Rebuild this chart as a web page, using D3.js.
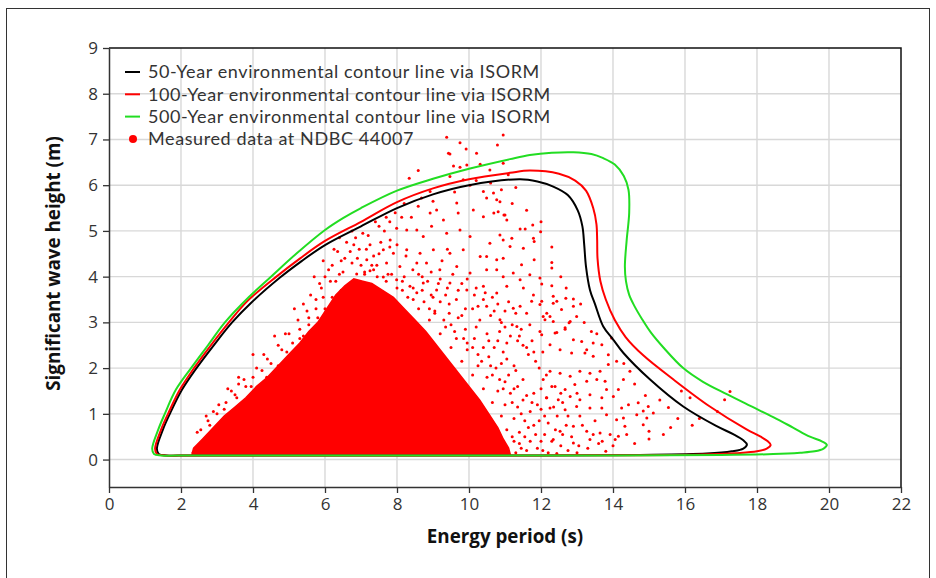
<!DOCTYPE html>
<html>
<head>
<meta charset="utf-8">
<script src="https://cdn.jsdelivr.net/npm/d3@7"></script>
<style>
  html, body { margin: 0; padding: 0; background: #fff; }
  svg { display: block; }
  .tick text { font-family: "Open Sans", sans-serif; font-size: 17px; fill: #333; }
</style>
</head>
<body>
<svg id="chart" width="936" height="578"></svg>
<script>
// axis ticks
const xTicks = [0, 2, 4, 6, 8, 10, 12, 14, 16, 18, 20, 22]
const yTicks = [0, 1, 2, 3, 4, 5, 6, 7, 8, 9]

// contour lines [Te, Hs], traced counter-clockwise from the lower-left tip
const contour50 = [
  [1.38, 0.12], [1.6, 0.09], [2.2, 0.09], [4, 0.09], [8, 0.09], [12, 0.09], [14.75, 0.1],
  [16.6, 0.13], [17.3, 0.18], [17.62, 0.24], [17.72, 0.33], [17.62, 0.42], [17.35, 0.55],
  [16.88, 0.73], [15.95, 1.16], [15.03, 1.75], [14.29, 2.33], [14.0, 2.63], [13.73, 2.91],
  [13.5, 3.4], [13.36, 3.71], [13.25, 4.22], [13.2, 4.7], [13.15, 5.1], [13.02, 5.45],
  [12.75, 5.78], [12.34, 5.97], [11.9, 6.08], [11.42, 6.13], [10.0, 6.0], [9.0, 5.8],
  [8.0, 5.5], [7.0, 5.1], [6.0, 4.69], [5.35, 4.34], [4.75, 3.98], [3.95, 3.43], [3.42, 3.0],
  [2.92, 2.51], [2.44, 2.01], [2.03, 1.53], [1.69, 1.0], [1.5, 0.66], [1.33, 0.24]
]
const contour100 = [
  [1.33, 0.12], [1.55, 0.09], [2.2, 0.09], [4, 0.09], [8, 0.09], [12, 0.09], [16.5, 0.11],
  [17.4, 0.14], [18.0, 0.18], [18.27, 0.24], [18.38, 0.32], [18.3, 0.4], [18.1, 0.5],
  [17.71, 0.66], [16.69, 1.16], [15.68, 1.75], [14.84, 2.28], [14.35, 2.68], [14.05, 3.05],
  [13.8, 3.5], [13.65, 3.9], [13.57, 4.4], [13.56, 4.8], [13.54, 5.15], [13.45, 5.5],
  [13.25, 5.88], [12.95, 6.1], [12.5, 6.25], [11.69, 6.32], [11.14, 6.27], [10.0, 6.13],
  [9.0, 5.93], [8.0, 5.63], [7.0, 5.2], [6.0, 4.78], [5.31, 4.4], [4.65, 4.0], [3.85, 3.47],
  [3.33, 3.0], [2.84, 2.51], [2.37, 2.01], [1.97, 1.53], [1.64, 1.0], [1.45, 0.66], [1.28, 0.24]
]
const contour500 = [
  [1.25, 0.12], [1.45, 0.09], [2.2, 0.09], [4, 0.09], [8, 0.09], [12, 0.09], [17, 0.1],
  [18.45, 0.12], [19.2, 0.15], [19.6, 0.18], [19.85, 0.24], [19.94, 0.32], [19.8, 0.4],
  [19.47, 0.5], [19.0, 0.7], [18.45, 0.93], [17.8, 1.18], [17.16, 1.43], [16.5, 1.7],
  [15.95, 2.0], [15.4, 2.45], [15.05, 2.78], [14.8, 3.08], [14.6, 3.35], [14.45, 3.6],
  [14.36, 3.9], [14.33, 4.22], [14.38, 4.8], [14.45, 5.4], [14.43, 5.9], [14.3, 6.2],
  [14.05, 6.45], [13.73, 6.59], [13.4, 6.68], [12.9, 6.72], [12.3, 6.71], [11.69, 6.66],
  [11.14, 6.57], [10.0, 6.36], [9.0, 6.14], [8.0, 5.88], [7.0, 5.5], [6.5, 5.28], [6.0, 5.02],
  [5.2, 4.5], [4.5, 4.0], [3.88, 3.55], [3.22, 3.0], [2.75, 2.5], [2.28, 2.0], [1.86, 1.53],
  [1.55, 1.0], [1.37, 0.66], [1.2, 0.24]
]

// measured data: outline of the saturated bulk of the buoy records
const denseCore = [
  [2.3, 0.1], [2.35, 0.25], [2.6, 0.45], [2.9, 0.7], [3.2, 0.95], [3.5, 1.15], [3.8, 1.35],
  [4.1, 1.6], [4.4, 1.8], [4.7, 2.05], [5.0, 2.3], [5.3, 2.55], [5.55, 2.8], [5.8, 3.0],
  [6.05, 3.3], [6.3, 3.6], [6.55, 3.8], [6.8, 3.95], [7.05, 3.9], [7.3, 3.85], [7.6, 3.7],
  [7.9, 3.55], [8.2, 3.3], [8.5, 3.05], [8.8, 2.8], [9.1, 2.5], [9.4, 2.2], [9.7, 1.9],
  [10.0, 1.6], [10.3, 1.3], [10.55, 1.0], [10.8, 0.7], [10.95, 0.45], [11.1, 0.25], [11.15, 0.1]
]

// measured data: individual records outside the bulk
const measured = [
  [2.34, 0.16], [2.53, 0.22], [2.8, 0.75], [3.2, 1.1], [3.55, 1.35], [3.95, 1.6], [4.38, 1.8],
  [4.7, 2.05], [4.94, 2.35], [5.3, 2.65], [5.4, 2.7], [5.55, 2.95], [5.8, 3.1],
  [6.0, 3.3], [6.2, 3.55], [6.45, 3.7], [5.9, 3.75],
  [6.3, 3.9], [6.5, 4.1], [6.75, 4.3], [6.95, 4.6], [7.1, 4.05], [7.35, 4.45], [6.2, 4.25],
  [6.6, 4.75], [7.2, 4.9], [7.5, 5.1], [7.7, 5.3], [7.95, 5.4], [8.2, 5.6], [7.55, 4.75],
  [6.85, 4.85], [6.88, 4.06], [7.25, 4.13], [7.62, 3.99], [7.99, 3.93],
  [8.36, 3.79], [8.73, 3.86], [9.1, 3.71], [9.47, 3.86], [9.94, 3.71], [10.4, 3.79], [10.77, 3.64],
  [7.16, 4.37], [7.44, 4.25], [7.71, 4.3], [8.08, 4.22], [8.44, 4.15], [8.82, 4.3], [9.19, 4.15],
  [9.66, 4.22], [10.03, 4.08], [10.49, 4.15], [10.95, 4.0], [7.81, 4.8], [7.62, 4.59], [7.9, 4.51],
  [8.27, 4.59], [8.64, 4.51], [9.01, 4.59], [9.47, 4.51], [9.84, 4.59], [10.31, 4.44], [10.77, 4.37],
  [8.13, 5.3], [7.99, 5.06], [8.27, 5.02], [8.55, 5.02], [8.73, 4.88], [8.96, 5.1], [9.38, 4.95],
  [9.75, 5.02], [10.03, 4.88], [10.58, 4.73], [10.95, 4.8], [8.59, 5.54], [8.92, 5.39], [9.1, 5.46],
  [9.29, 5.24], [9.66, 5.61], [9.7, 5.39], [10.12, 5.46], [10.4, 5.31], [10.81, 5.42], [11.05, 5.24],
  [8.68, 5.72], [8.92, 5.86], [9.47, 6.19], [9.84, 6.12], [10.03, 6.0], [10.4, 5.86], [10.77, 5.68],
  [10.49, 5.72], [8.59, 6.32], [8.34, 6.15], [9.57, 6.42], [9.75, 6.39], [9.94, 6.44], [10.31, 6.46],
  [10.58, 6.33], [9.38, 7.05], [9.75, 6.93], [9.92, 6.79], [9.47, 6.68], [10.21, 6.7], [10.79, 6.88],
  [10.95, 7.1], [9.43, 6.7], [10.95, 6.48], [11.09, 6.23], [10.68, 5.83], [10.86, 5.64], [10.9, 5.9],
  [10.69, 5.39], [10.97, 5.35], [11.0, 5.35], [11.42, 5.04], [11.56, 5.04], [11.77, 5.13],
  [11.99, 4.98], [11.79, 4.84], [11.81, 4.77], [11.51, 4.62], [11.14, 4.66], [11.19, 4.84],
  [10.86, 4.91], [10.49, 4.44], [10.95, 4.4], [11.46, 4.26], [11.81, 4.37], [12.3, 4.31],
  [12.3, 4.19], [10.77, 4.15], [11.23, 4.08], [11.69, 4.04], [11.97, 3.97], [12.3, 3.8],
  [12.02, 3.84], [11.05, 3.79], [11.51, 3.75], [11.79, 3.6], [12.02, 3.46], [12.44, 3.46],
  [12.69, 3.53], [12.9, 3.51], [12.57, 3.28], [12.99, 3.13], [12.25, 3.13], [11.6, 3.2],
  [11.23, 3.31], [10.49, 3.35], [10.86, 3.06], [11.33, 2.91], [11.69, 2.95], [11.97, 2.8],
  [12.44, 2.78], [12.67, 2.88], [13.96, 2.66], [11.42, 3.93], [11.97, 3.39], [11.74, 3.46],
  [11.42, 3.35], [12.16, 3.2], [12.78, 2.99], [12.34, 3.02], [12.06, 3.13], [12.34, 3.57],
  [12.34, 3.42], [12.9, 3.35], [12.11, 3.06], [12.81, 3.02], [12.67, 2.85], [12.39, 2.77],
  [12.02, 2.73], [12.9, 2.62], [13.13, 2.58], [13.45, 2.55], [13.69, 2.51], [13.27, 2.4],
  [12.25, 2.51], [12.53, 2.4], [12.85, 2.33], [13.22, 2.33], [13.45, 2.26], [13.87, 2.29],
  [14.1, 2.15], [13.87, 2.08], [13.64, 1.93], [13.36, 1.89], [13.08, 1.93],
  [12.81, 1.82], [12.53, 1.89], [12.25, 1.93], [12.06, 1.75], [12.39, 1.6], [12.67, 1.53],
  [12.94, 1.64], [13.27, 1.71], [13.55, 1.75], [13.78, 1.71], [13.82, 1.53], [14.15, 1.53],
  [14.29, 1.75], [14.47, 1.93], [14.01, 1.38], [13.69, 1.35], [13.36, 1.42], [13.08, 1.31],
  [12.81, 1.38], [12.48, 1.31], [12.16, 1.35], [12.25, 1.13], [12.67, 1.09], [12.99, 1.16],
  [13.36, 1.13], [13.69, 1.13], [14.24, 1.13], [14.43, 1.2], [14.7, 1.24], [14.98, 1.16],
  [14.84, 1.06], [15.54, 1.14], [15.12, 1.02], [13.82, 0.98], [14.29, 0.91], [14.66, 0.98],
  [14.94, 0.91], [14.84, 0.76], [14.33, 0.73], [14.1, 0.87], [13.08, 0.95], [12.9, 0.73],
  [13.27, 0.62], [13.45, 0.55], [13.64, 0.58], [13.92, 0.55], [14.15, 0.51], [14.06, 0.44],
  [14.38, 0.55], [12.53, 0.62], [12.34, 0.44], [12.9, 0.36], [13.36, 0.44], [12.44, 0.13],
  [17.25, 1.49], [17.1, 1.31], [16.14, 1.35],
  [8.0, 3.75], [8.45, 3.5], [8.9, 3.3], [9.3, 3.05], [9.6, 2.8], [9.95, 2.55], [10.25, 2.3],
  [10.6, 2.05], [10.85, 1.75], [11.15, 1.45], [11.35, 1.15], [11.55, 0.85], [11.4, 0.6],
  [11.7, 0.4], [9.0, 3.55], [9.45, 3.4], [9.8, 3.15], [10.2, 2.9], [10.55, 2.6], [10.95, 2.35],
  [11.25, 2.05], [11.5, 1.75], [11.8, 1.45], [12.0, 1.1], [12.2, 0.8], [11.9, 0.25], [10.1, 3.3],
  [10.6, 3.15], [11.0, 2.9], [11.35, 2.6], [11.65, 2.3], [11.95, 2.0], [12.3, 1.6], [12.45, 0.95],
  [12.1, 0.55], [10.4, 3.5], [10.8, 3.4], [11.3, 3.2], [11.75, 2.6], [12.05, 2.35], [11.45, 2.85],
  [12.6, 1.25], [12.7, 0.75], [12.85, 0.5], [13.05, 0.3], [12.55, 0.3], [13.3, 0.25], [11.6, 0.2],
  [11.3, 0.15], [11.2, 0.5],
  [8.15, 3.7], [8.55, 3.65], [8.85, 3.9], [9.2, 3.95], [9.35, 3.6], [9.65, 3.5],
  [9.9, 3.3], [10.3, 3.05], [10.5, 2.75], [10.7, 2.45], [9.05, 3.2], [9.5, 2.95], [9.85, 2.65],
  [10.1, 2.45], [10.35, 2.15], [10.65, 1.85], [10.95, 1.55], [11.2, 1.25], [11.45, 1.0],
  [11.65, 0.7], [11.85, 0.55], [8.7, 4.0], [9.25, 4.35], [9.55, 4.05], [9.8, 3.85], [10.15, 3.6],
  [10.65, 3.55], [11.0, 3.25], [11.15, 2.7], [11.5, 2.5], [11.85, 2.15], [12.15, 1.85],
  [12.0, 1.55], [11.75, 1.25], [11.95, 0.85], [12.3, 0.4], [12.6, 0.55], [12.15, 1.35],
  [11.3, 1.95], [11.05, 2.2], [10.85, 2.8], [10.2, 3.75], [9.4, 4.6], [8.55, 4.3], [8.2, 4.0],
  [7.75, 4.05], [7.35, 4.15], [7.0, 4.25], [6.55, 4.4], [6.4, 4.05], [6.15, 3.9], [5.75, 3.5],
  [5.5, 3.25], [5.25, 3.05], [5.0, 2.75], [4.7, 2.5], [4.4, 2.2], [4.1, 2.0], [3.75, 1.75],
  [3.4, 1.5], [3.05, 1.2], [2.7, 0.95], [2.45, 0.6], [2.9, 1.05], [3.6, 1.8], [4.0, 2.3],
  [4.6, 2.7], [5.15, 3.3], [5.6, 3.6], [6.0, 4.0], [6.35, 4.55], [6.8, 4.7], [7.05, 4.95],
  [7.4, 5.2], [7.8, 5.2], [8.4, 5.3], [9.0, 5.65], [9.6, 5.85], [10.2, 6.1], [10.6, 6.05],
  [11.2, 5.6], [11.3, 5.95], [11.6, 5.45], [12.0, 5.2], [12.3, 4.65], [12.55, 4.0], [12.7, 3.75],
  [13.1, 3.4], [13.2, 3.0], [13.4, 2.8], [13.55, 2.75], [14.3, 2.1], [14.6, 1.65], [14.9, 1.4],
  [15.3, 1.3], [15.8, 0.9], [16.2, 0.75], [15.4, 0.55], [15.0, 0.45], [14.6, 0.35], [14.0, 0.3],
  [13.6, 0.35], [12.2, 0.15], [13.0, 0.15], [13.8, 0.18], [15.0, 0.62], [15.6, 0.7], [16.4, 0.9],
  [16.9, 1.05], [15.9, 1.5],
  [7.1, 4.1], [7.45, 4.0], [7.7, 3.9], [8.3, 3.55], [8.6, 3.3], [8.9, 3.05], [9.2, 2.75],
  [9.5, 2.45], [9.8, 2.15], [10.1, 1.85], [10.4, 1.55], [10.65, 1.25], [10.9, 0.95], [11.05, 0.65],
  [11.25, 0.4], [7.3, 4.25], [7.85, 4.05], [8.15, 3.9], [8.45, 3.75], [8.75, 3.45], [9.05, 3.25],
  [9.35, 2.9], [9.65, 2.65], [9.95, 2.4], [10.25, 2.05], [10.5, 1.8], [10.8, 1.5], [11.0, 1.2],
  [11.25, 0.9], [11.4, 0.35], [8.25, 4.45], [8.6, 4.05], [8.95, 4.1], [9.15, 3.85], [9.4, 3.75],
  [9.7, 3.7], [9.95, 3.95], [10.25, 3.35], [10.45, 3.65], [10.7, 3.25], [10.9, 3.0], [11.1, 3.45],
  [11.2, 2.95], [11.4, 2.7], [11.6, 2.45], [11.8, 2.35], [11.05, 2.55], [10.8, 2.6], [10.4, 2.45],
  [10.15, 2.65], [9.9, 2.85], [9.7, 3.1], [9.45, 3.2], [9.2, 3.45], [8.95, 3.6], [8.7, 3.7],
  [10.55, 2.25], [10.9, 2.1], [11.1, 1.85], [11.35, 1.6], [11.6, 1.4], [11.9, 1.2], [12.1, 0.95],
  [11.7, 1.05], [11.5, 1.3], [11.25, 1.55], [11.0, 1.7], [10.75, 2.0], [12.35, 1.15], [12.4, 0.65],
  [12.0, 0.4], [11.8, 0.75], [11.55, 0.5], [11.45, 0.25], [12.75, 0.95], [12.55, 1.45], [13.0, 1.45],
  [13.15, 0.75], [13.5, 0.85], [13.7, 0.4], [12.75, 0.2], [12.05, 0.2],
  [6.25, 4.6], [6.45, 4.35], [6.7, 4.55], [6.9, 4.4], [7.15, 4.6], [7.5, 4.5], [7.8, 4.65],
  [6.4, 4.85], [6.75, 5.0], [7.25, 4.7], [7.65, 5.0], [8.0, 4.7], [5.95, 4.35], [5.7, 4.0],
  [6.1, 4.15],
  [2.55, 0.65], [2.75, 0.85], [3.0, 1.0], [3.25, 1.25], [3.5, 1.42], [3.8, 1.6], [4.0, 1.8],
  [4.25, 1.95], [4.5, 2.1], [4.8, 2.4], [5.1, 2.55], [5.3, 2.85], [5.55, 3.1], [5.75, 3.3],
  [5.95, 3.55], [4.3, 2.3], [3.6, 1.65], [3.3, 1.55], [4.9, 2.75], [5.4, 3.4], [5.85, 3.85]
]

const legendItems = [
  { label: '50-Year environmental contour line via ISORM', color: '#000000', type: 'line' },
  { label: '100-Year environmental contour line via ISORM', color: '#ff0000', type: 'line' },
  { label: '500-Year environmental contour line via ISORM', color: '#22dd22', type: 'line' },
  { label: 'Measured data at NDBC 44007', color: '#ff0000', type: 'dot' }
]

const svg = d3.select('#chart')
const plot = { left: 109, right: 901, top: 48, bottom: 487 }

const x = d3.scaleLinear().domain([0, 22]).range([plot.left, plot.right])
const y = d3.scaleLinear().domain([-0.6, 9]).range([plot.bottom, plot.top])

// outer frame
svg.append('rect')
  .attr('x', 6.5).attr('y', 8.5)
  .attr('width', 923).attr('height', 600)
  .attr('fill', 'none').attr('stroke', '#333').attr('stroke-width', 1)

// grid
const grid = svg.append('g').attr('stroke', '#d8d8d8').attr('stroke-width', 1.4)
grid.selectAll('line.v')
  .data(xTicks.filter(d => d > 0 && d < 22))
  .join('line')
  .attr('class', 'v')
  .attr('x1', d => x(d)).attr('x2', d => x(d))
  .attr('y1', plot.top).attr('y2', plot.bottom)
grid.selectAll('line.h')
  .data(yTicks.filter(d => d < 9))
  .join('line')
  .attr('class', 'h')
  .attr('x1', plot.left).attr('x2', plot.right)
  .attr('y1', d => y(d)).attr('y2', d => y(d))

// top and right border of the plot area
svg.append('path')
  .attr('d', `M${plot.left},${plot.top}H${plot.right}V${plot.bottom}`)
  .attr('fill', 'none').attr('stroke', '#111').attr('stroke-width', 1.5)

// axes
const xAxis = svg.append('g')
  .attr('transform', `translate(0,${plot.bottom})`)
  .call(d3.axisBottom(x).tickValues(xTicks).tickSize(6).tickSizeOuter(0).tickPadding(5))
const yAxis = svg.append('g')
  .attr('transform', `translate(${plot.left},0)`)
  .call(d3.axisLeft(y).tickValues(yTicks).tickSize(6).tickSizeOuter(0).tickPadding(5))
xAxis.select('.domain').attr('stroke', '#333').attr('stroke-width', 1.5)
yAxis.select('.domain').attr('stroke', '#333').attr('stroke-width', 1.5)
svg.selectAll('.tick line').attr('stroke', '#333').attr('stroke-width', 1.3)

// measured data
svg.append('path')
  .datum(denseCore)
  .attr('fill', '#ff0000')
  .attr('stroke', '#ff0000')
  .attr('stroke-width', 1.5)
  .attr('d', d3.line().x(d => x(d[0])).y(d => y(d[1])))
svg.append('g')
  .selectAll('circle')
  .data(measured)
  .join('circle')
  .attr('cx', d => x(d[0]))
  .attr('cy', d => y(d[1]))
  .attr('r', 1.5)
  .attr('fill', '#ff0000')

// contour lines
const contourLine = d3.line()
  .x(d => x(d[0])).y(d => y(d[1]))
  .curve(d3.curveCatmullRomClosed.alpha(0.5))
const contours = [
  { pts: contour50, color: '#000000' },
  { pts: contour100, color: '#ff0000' },
  { pts: contour500, color: '#22dd22' }
]
svg.append('g')
  .selectAll('path')
  .data(contours)
  .join('path')
  .attr('d', d => contourLine(d.pts))
  .attr('fill', 'none')
  .attr('stroke', d => d.color)
  .attr('stroke-width', 2)

// legend
const legend = svg.append('g')
  .selectAll('g')
  .data(legendItems)
  .join('g')
  .attr('transform', (d, i) => `translate(125,${72 + i * 22.3})`)
legend.filter(d => d.type === 'line').append('line')
  .attr('x1', 0).attr('x2', 15)
  .attr('stroke', d => d.color).attr('stroke-width', 2)
legend.filter(d => d.type === 'dot').append('circle')
  .attr('cx', 8).attr('r', 4)
  .attr('fill', d => d.color)
legend.append('text')
  .attr('x', 23).attr('dy', '0.35em')
  .attr('font-family', 'Lato, sans-serif')
  .attr('font-size', 18)
  .attr('letter-spacing', 0.6)
  .attr('fill', '#333')
  .text(d => d.label)

// axis titles
svg.append('text')
  .attr('x', (plot.left + plot.right) / 2)
  .attr('y', 543)
  .attr('text-anchor', 'middle')
  .attr('font-family', '"Open Sans", sans-serif')
  .attr('font-weight', 'bold')
  .attr('font-size', 18.8)
  .attr('fill', '#111')
  .text('Energy period (s)')
svg.append('text')
  .attr('transform', `translate(60,${(plot.top + plot.bottom) / 2 - 4}) rotate(-90)`)
  .attr('text-anchor', 'middle')
  .attr('font-family', '"Open Sans", sans-serif')
  .attr('font-weight', 'bold')
  .attr('font-size', 18.8)
  .attr('fill', '#111')
  .text('Significant wave height (m)')
</script>
</body>
</html>
